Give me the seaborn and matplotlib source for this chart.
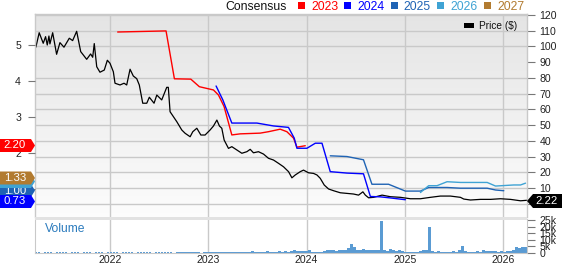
import numpy as np
import pandas as pd
import matplotlib
matplotlib.use("Agg")
import matplotlib.pyplot as plt
import seaborn as sns
from matplotlib.patches import Polygon, Rectangle

# ---------------- data (decimal years) ----------------
price_t = [2021.246, 2021.280, 2021.321, 2021.345, 2021.362, 2021.379, 2021.389, 2021.417,
           2021.457, 2021.491, 2021.532, 2021.586, 2021.620, 2021.661, 2021.702, 2021.763,
           2021.803, 2021.824, 2021.840, 2021.865, 2021.898, 2021.942, 2021.973, 2022.000,
           2022.034, 2022.051, 2022.102, 2022.143, 2022.170, 2022.204, 2022.237, 2022.272,
           2022.298, 2022.333, 2022.374, 2022.400, 2022.448, 2022.476, 2022.526, 2022.577,
           2022.593, 2022.611, 2022.679, 2022.730, 2022.764, 2022.815, 2022.842, 2022.883,
           2022.924, 2022.967, 2023.018, 2023.052, 2023.087, 2023.113, 2023.137, 2023.161,
           2023.205, 2023.239, 2023.290, 2023.341, 2023.392, 2023.426, 2023.459, 2023.510,
           2023.561, 2023.612, 2023.663, 2023.714, 2023.765, 2023.816, 2023.850, 2023.884,
           2023.935, 2023.968, 2024.019, 2024.070, 2024.105, 2024.138, 2024.179, 2024.223,
           2024.274, 2024.342, 2024.410, 2024.477, 2024.528, 2024.572, 2024.597, 2024.630,
           2024.681, 2024.767, 2024.851, 2024.953, 2025.055, 2025.157, 2025.259, 2025.360,
           2025.462, 2025.564, 2025.598, 2025.666, 2025.768, 2025.870, 2025.971, 2026.073,
           2026.175, 2026.240]
price_v = [99.5, 108.7, 102.0, 106.2, 100.9, 106.6, 101.6, 108.7,
           95.0, 102.4, 99.5, 105.2, 103.7, 109.6, 96.7, 91.8,
           95.2, 93.1, 101.8, 87.1, 83.6, 85.0, 91.2, 89.3,
           83.9, 76.6, 75.5, 76.6, 75.5, 85.5, 81.2, 79.5,
           75.5, 63.9, 63.9, 67.7, 63.9, 69.1, 66.0, 74.0,
           74.0, 58.5, 52.2, 46.9, 44.8, 42.6, 45.8, 48.0,
           43.7, 43.7, 46.9, 49.4, 53.2, 49.4, 48.0, 40.5,
           35.2, 36.3, 34.2, 32.1, 33.1, 34.6, 32.4, 33.1,
           31.6, 28.9, 27.8, 25.7, 23.5, 20.4, 16.5, 18.3,
           20.4, 21.4, 19.7, 19.3, 18.3, 16.2, 11.9, 9.4,
           8.3, 7.0, 6.6, 6.2, 5.5, 7.6, 5.5, 3.8,
           4.1, 5.5, 4.5, 4.1, 3.2, 3.2, 4.1, 4.9,
           4.9, 4.1, 3.0, 2.4, 2.8, 2.8, 3.2, 2.8,
           1.9, 2.22]

c2023_t = [2022.078, 2022.570, 2022.655, 2022.822, 2022.909, 2023.052, 2023.103, 2023.160,
           2023.239, 2023.324, 2023.527, 2023.612, 2023.731, 2023.799, 2023.867, 2023.901, 2023.986]
c2023_v = [5.36, 5.39, 4.06, 4.05, 3.84, 3.75, 3.61, 3.29,
           2.50, 2.53, 2.55, 2.59, 2.66, 2.59, 2.41, 2.16, 2.20]

c2024_t = [2023.079, 2023.148, 2023.239, 2023.494, 2023.662, 2023.815, 2023.874, 2023.901,
           2024.003, 2024.088, 2024.156, 2024.240, 2024.325, 2024.410, 2024.578, 2024.648,
           2024.749, 2024.851, 2025.004]
c2024_v = [3.86, 3.47, 2.83, 2.83, 2.75, 2.71, 2.41, 2.13,
           2.13, 2.27, 2.27, 1.48, 1.46, 1.44, 1.42, 0.79,
           0.78, 0.75, 0.70]

c2025_t = [2024.240, 2024.410, 2024.578, 2024.664, 2024.833, 2025.004, 2025.157, 2025.241,
           2025.428, 2025.564, 2025.836, 2025.921, 2026.005]
c2025_v = [1.92, 1.90, 1.81, 1.13, 1.13, 0.94, 0.94, 1.04,
           1.04, 1.02, 1.02, 0.97, 0.95]

c2026_t = [2025.157, 2025.241, 2025.326, 2025.428, 2025.564, 2025.836, 2025.921, 2026.107,
           2026.175, 2026.226]
c2026_v = [0.90, 1.09, 1.09, 1.20, 1.18, 1.18, 1.08, 1.11, 1.11, 1.16]

series_names = ["2023", "2024", "2025", "2026", "2027"]
series_colors = ["#ff0000", "#0000ff", "#1f63b4", "#3fa3d4", "#b27b30"]
badge_labels = ["2.20", "0.73", "1.00", "1.16", "1.33"]
last_price_label = "2.22"

# volume in thousands, roughly every 11 days from Apr 2021
vol_k = [0.4, 0.5, 0.3, 0.6, 0.4, 0.5, 0.3, 0.4, 0.6, 0.5, 0.4, 0.3, 0.5, 0.4, 0.6, 0.3, 0.4,
         0.5, 0.4, 0.3, 0.6, 0.4, 0.5, 0.3, 0.4,
         0.5, 0.4, 0.6, 0.3, 0.5, 0.7, 0.4, 0.5, 0.3, 0.6, 0.4, 0.5, 0.8, 0.4, 0.3, 0.5, 0.6,
         0.4, 0.5, 0.7, 0.4, 0.3, 0.5, 0.6, 0.4, 0.8, 0.5, 0.4, 0.6, 0.5, 0.3, 0.5, 0.6,
         0.6, 0.8, 0.5, 0.9, 0.7, 1.0, 0.6, 0.8, 1.1, 0.7, 0.9, 0.6, 1.0, 0.8, 1.2, 0.7, 0.9,
         1.0, 0.8, 1.3, 0.9, 1.1, 0.8, 1.2, 1.0, 1.4, 0.9, 1.6, 2.2, 1.5, 1.2, 1.8, 1.4,
         2.2, 1.0, 0.8, 0.7, 0.9, 1.8, 2.2, 2.0, 2.4, 1.8, 2.1, 2.5, 1.9, 3.5, 7.0, 4.5, 2.2,
         2.0, 2.8, 2.4, 1.9, 2.6, 2.2, 2.0, 24.5, 2.1, 1.8, 2.9, 2.3, 1.6, 1.9, 1.2, 1.0,
         1.0, 0.8, 1.1, 0.9, 1.8, 2.0, 2.1, 20.0, 1.5, 1.0, 1.2, 0.9, 1.1, 0.8, 1.0, 1.3, 0.9,
         2.5, 5.5, 1.4, 1.0, 1.1, 0.8, 1.2, 1.0, 2.2, 1.8, 1.3, 1.5, 1.2, 1.0, 1.3, 1.1,
         1.2, 1.4, 1.9, 4.2, 3.8, 4.6, 4.4]
vol_t = np.linspace(2021.252, 2026.226, len(vol_k))

years = [2022, 2023, 2024, 2025, 2026]

# ---------------- figure ----------------
W, H = 562, 264
sns.set_style("white")
plt.rcParams['font.family'] = ['Liberation Sans', 'DejaVu Sans']

fig = plt.figure(figsize=(W / 100, H / 100), dpi=100)
fig.patch.set_facecolor("white")


def fx(px):
    return px / W


def fy(py):
    return 1 - py / H


L, R, T, B = 35, 527, 14, 217
VT, VB = 219, 253
rect_main = [fx(L), fy(B), (R - L) / W, (B - T) / H]

bg = fig.add_axes(rect_main, zorder=0)
grad = np.linspace(0.895, 0.99, 200)[:, None, None] * np.ones((1, 1, 3))
bg.imshow(grad, extent=[0, 1, 0, 1], aspect="auto", origin="upper")
bg.set_axis_off()

ax_p = fig.add_axes(rect_main, zorder=1)
ax_p.patch.set_visible(False)
ax_e = ax_p.twinx()
ax_e.set_zorder(2)
ax_e.patch.set_visible(False)

xmin, xmax = 2021.2373, 2026.241
for a in (ax_p, ax_e):
    a.set_xlim(xmin, xmax)

# price axis
ax_p.set_ylim(-8.4, 120.6)
grid_levels = [0, 10, 20, 30, 40, 50, 60, 70, 80, 100, 110, 120]
for v in grid_levels:
    ax_p.axhline(v, color="#c9c9c9", lw=1.0, zorder=0)
for yr in years:
    ax_p.axvline(yr, color="#c9c9c9", lw=1.0, zorder=0)
sns.lineplot(x=price_t, y=price_v, ax=ax_p, color="black", lw=0.9, sort=False)
ax_p.yaxis.tick_right()
ax_p.set_yticks(range(0, 121, 10))
ax_p.set_yticklabels([""] + [str(v) for v in range(10, 121, 10)])
ax_p.tick_params(axis="y", which="both", right=True, left=False, length=6, width=0.8,
                 color="#777777", labelsize=7.6, pad=3, labelcolor="#222222")
ax_p.set_xticks([])
for s in ax_p.spines.values():
    s.set_color("#c9c9c9")
    s.set_linewidth(1.0)
ax_p.spines["bottom"].set_visible(False)

# consensus axis (left)
ax_e.set_ylim(0.22, 5.86)
ts = [c2023_t, c2024_t, c2025_t, c2026_t]
vs = [c2023_v, c2024_v, c2025_v, c2026_v]
for name, t, v, col in zip(series_names[:4], ts, vs, series_colors[:4]):
    sns.lineplot(x=t, y=v, ax=ax_e, color=col, lw=1.0, sort=False)
ax_e.yaxis.tick_left()
ax_e.set_yticks([1, 2, 3, 4, 5])
ax_e.set_yticklabels(["", "2", "3", "4", "5"])
ax_e.tick_params(axis="y", which="both", left=True, right=False, length=5, width=0.8,
                 color="#777777", labelsize=7.6, pad=5, labelcolor="#222222")
ax_e.set_xticks([])
for s in ax_e.spines.values():
    s.set_visible(False)
ax_e.set_ylabel("")
ax_p.set_ylabel("")

# volume
ax_v = fig.add_axes([fx(L), fy(VB), (R - L) / W, (VB - VT) / H], zorder=1)
ax_v.set_facecolor("white")
for yr in years:
    ax_v.axvline(yr, color="#c9c9c9", lw=1.0, zorder=0)
ax_v.bar(vol_t, vol_k, width=0.021, color="#5a9bd3", edgecolor="none", zorder=2)
ax_v.set_xlim(xmin, xmax)
ax_v.set_ylim(0, 25.8)
ax_v.yaxis.tick_right()
ax_v.set_yticks([0, 5, 10, 15, 20, 25])
ax_v.set_yticklabels(["0", "5k", "10k", "15k", "20k", "25k"])
ax_v.tick_params(axis="y", right=True, left=False, length=6, width=0.8, color="#777777",
                 labelsize=7.6, pad=3, labelcolor="#222222")
ax_v.set_xticks(years)
ax_v.set_xticklabels([str(y) for y in years])
ax_v.tick_params(axis="x", length=0, labelsize=7.6, pad=1.5, labelcolor="#222222")
for s in ax_v.spines.values():
    s.set_color("#c9c9c9")
ax_v.spines["top"].set_visible(False)
ax_v.text(0.02, 0.72, "Volume", transform=ax_v.transAxes, color="#2b7bbd",
          fontsize=8.7, va="center", ha="left")

# separator band
fig.patches.append(Rectangle((fx(L), fy(219.5)), (R - L) / W, 3 / H, transform=fig.transFigure,
                             facecolor="#e2e2e2", edgecolor="none", zorder=5))

# ---------------- top legend ----------------
ty = fy(9.5)
fig.text(fx(225), ty, "Consensus", fontsize=8.8, color="#111111", va="baseline", ha="left")
sq_x = [298, 344, 391, 437, 484]
tx_x = [311, 357, 403, 450, 497]
for name, col, sx, tx in zip(series_names, series_colors, sq_x, tx_x):
    fig.patches.append(Rectangle((fx(sx), fy(9)), 7 / W, 7 / H, transform=fig.transFigure,
                                 facecolor=col, edgecolor="none"))
    fig.text(fx(tx), ty, name, fontsize=8.8, color=col, va="baseline", ha="left")

# Price legend
fig.patches.append(Rectangle((fx(464), fy(28)), 10 / W, 5 / H, transform=fig.transFigure,
                             facecolor="black", edgecolor="none", zorder=6))
fig.text(fx(479), fy(26), "Price ($)", fontsize=7.3, color="#111111", va="center", ha="left",
         zorder=6)


# ---------------- badges ----------------
def left_badge(yc, text, col, z):
    h = 13
    pts = [(0, yc - h / 2), (31, yc - h / 2), (35, yc), (31, yc + h / 2), (0, yc + h / 2)]
    fig.patches.append(Polygon([(fx(a), fy(b)) for a, b in pts], closed=True,
                               transform=fig.transFigure, facecolor=col, edgecolor="none",
                               zorder=z))
    fig.text(fx(15), fy(yc), text, color="white", fontsize=8.2, ha="center", va="center",
             zorder=z + 0.1)


def right_badge(yc, text, col, z):
    h = 14
    pts = [(527, yc), (533, yc - h / 2), (562, yc - h / 2), (562, yc + h / 2), (533, yc + h / 2)]
    fig.patches.append(Polygon([(fx(a), fy(b)) for a, b in pts], closed=True,
                               transform=fig.transFigure, facecolor=col, edgecolor="none",
                               zorder=z))
    fig.text(fx(547), fy(yc), text, color="white", fontsize=8.2, ha="center", va="center",
             zorder=z + 0.1)


left_badge(145.5, badge_labels[0], series_colors[0], 10)
left_badge(190.5, badge_labels[2], series_colors[2], 10)
left_badge(181.5, badge_labels[3], series_colors[3], 11)
left_badge(178.0, badge_labels[4], series_colors[4], 12)
left_badge(201.5, badge_labels[1], series_colors[1], 12)
right_badge(201.0, last_price_label, "black", 12)

fig.savefig("out.png", dpi=100, facecolor="white")
